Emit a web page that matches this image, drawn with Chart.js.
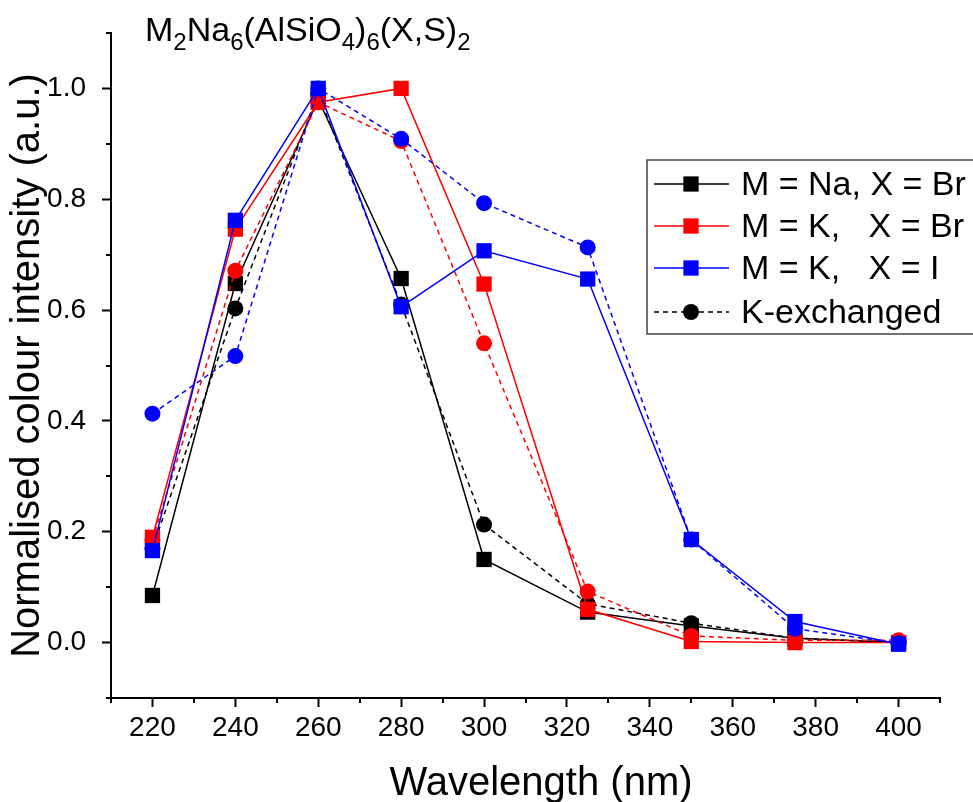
<!DOCTYPE html>
<html>
<head>
<meta charset="utf-8">
<script src="https://cdn.jsdelivr.net/npm/chart.js@4.4.1/dist/chart.umd.min.js"></script>
<style>
  html, body { margin: 0; padding: 0; background: #fff; }
</style>
</head>
<body>
<canvas id="chart" width="973" height="802"></canvas>
<script>
// ===== Data =====
const wavelengths = [220, 240, 260, 280, 300, 325, 350, 375, 400];

// solid lines, square markers
const naBr = [0.085, 0.648, 0.98, 0.657, 0.15, 0.055, 0.03, 0.008, 0.0];
const kBr  = [0.19, 0.746, 0.975, 1.0, 0.647, 0.06, 0.002, 0.0, 0.0];
const kI   = [0.166, 0.762, 1.0, 0.606, 0.707, 0.656, 0.186, 0.038, -0.003];

// dashed lines, circle markers (K-exchanged)
const exNaBr = [0.17, 0.603, 0.99, 0.61, 0.213, 0.07, 0.035, 0.008, 0.0];
const exKBr  = [0.185, 0.671, 0.975, 0.905, 0.54, 0.092, 0.012, 0.004, 0.004];
const exKI   = [0.413, 0.517, 1.0, 0.909, 0.793, 0.713, 0.186, 0.025, -0.001];

const xTicks = [220, 240, 260, 280, 300, 320, 340, 360, 380, 400];
const yTicks = [0.0, 0.2, 0.4, 0.6, 0.8, 1.0];
const xMinor = [210, 230, 250, 270, 290, 310, 330, 350, 370, 390, 410];
const yMinor = [-0.1, 0.1, 0.3, 0.5, 0.7, 0.9, 1.1];

const legendItems = [
  { label: "M = Na, X = Br", color: "#000000", dashed: false, style: "rect" },
  { label: "M = K,   X = Br", color: "#ff0000", dashed: false, style: "rect" },
  { label: "M = K,   X = I", color: "#0000ff", dashed: false, style: "rect" },
  { label: "K-exchanged", color: "#000000", dashed: true, style: "circle" }
];

const FONT = "Arial, 'Liberation Sans', sans-serif";

function pts(vals) {
  return wavelengths.map((x, i) => ({ x: x, y: vals[i] }));
}

function series(vals, color, dashed) {
  return {
    data: pts(vals),
    borderColor: color,
    backgroundColor: color,
    borderWidth: 1.5,
    borderDash: dashed ? [5, 4] : [],
    pointStyle: dashed ? "circle" : "rect",
    pointRadius: dashed ? 8 : 10.8,
    pointBorderWidth: 0,
    tension: 0
  };
}

// ===== Plugins =====
const extras = {
  id: "extras",
  afterDraw(chart) {
    const ctx = chart.ctx;
    const xs = chart.scales.x, ys = chart.scales.y;
    const area = chart.chartArea;
    ctx.save();
    // minor ticks
    ctx.strokeStyle = "#000";
    ctx.lineWidth = 2;
    xMinor.forEach(v => {
      const px = Math.round(xs.getPixelForValue(v));
      ctx.beginPath();
      ctx.moveTo(px, area.bottom);
      ctx.lineTo(px, area.bottom + 5);
      ctx.stroke();
    });
    yMinor.forEach(v => {
      const py = Math.round(ys.getPixelForValue(v));
      ctx.beginPath();
      ctx.moveTo(area.left, py);
      ctx.lineTo(area.left - 5, py);
      ctx.stroke();
    });

    // x axis title
    ctx.fillStyle = "#000";
    ctx.font = "40px " + FONT;
    ctx.textAlign = "center";
    ctx.textBaseline = "middle";
    ctx.fillText("Wavelength (nm)", 541, 784);

    // title with subscripts
    const parts = [["M", 0], ["2", 1], ["Na", 0], ["6", 1], ["(AlSiO", 0], ["4", 1], [")", 0], ["6", 1], ["(X,S)", 0], ["2", 1]];
    let tx = 145;
    const base = 41;
    ctx.textBaseline = "alphabetic";
    ctx.textAlign = "left";
    parts.forEach(([t, sub]) => {
      ctx.font = (sub ? "24px " : "34px ") + FONT;
      ctx.fillText(t, tx, sub ? base + 9 : base);
      tx += ctx.measureText(t).width;
    });

    // legend
    const lx = 647, ly = 160, lw = 340, lh = 174;
    ctx.lineWidth = 1.5;
    ctx.strokeStyle = "#444";
    ctx.strokeRect(lx, ly, lw, lh);
    ctx.font = "34px " + FONT;
    ctx.textBaseline = "middle";
    const rows = [184, 226, 268, 312];
    legendItems.forEach((it, i) => {
      const y = rows[i];
      ctx.strokeStyle = it.color;
      ctx.fillStyle = it.color;
      ctx.lineWidth = 1.5;
      ctx.setLineDash(it.dashed ? [5, 4] : []);
      ctx.beginPath();
      ctx.moveTo(654, y);
      ctx.lineTo(729, y);
      ctx.stroke();
      ctx.setLineDash([]);
      Chart.helpers.drawPoint(ctx, { pointStyle: it.style, radius: it.style === "rect" ? 10.8 : 8, borderWidth: 0 }, 691, y);
      ctx.fillStyle = "#000";
      ctx.fillText(it.label, 741, y + 2);
    });
    ctx.restore();
  }
};

// ===== Chart =====
new Chart(document.getElementById("chart"), {
  type: "line",
  data: {
    datasets: [
      series(exKI, "#0000ff", true),
      series(kI, "#0000ff", false),
      series(exKBr, "#ff0000", true),
      series(kBr, "#ff0000", false),
      series(exNaBr, "#000000", true),
      series(naBr, "#000000", false)
    ]
  },
  options: {
    responsive: false,
    animation: false,
    devicePixelRatio: 1,
    layout: { padding: { top: 33, right: 33, left: 0, bottom: 0 } },
    plugins: {
      legend: { display: false },
      tooltip: { enabled: false }
    },
    scales: {
      x: {
        type: "linear",
        min: 210,
        max: 410,
        afterBuildTicks: s => { s.ticks = xTicks.map(v => ({ value: v })); },
        afterFit: s => { s.height = 104; },
        border: { display: true, color: "#000", width: 2 },
        grid: { display: true, drawOnChartArea: false, drawTicks: true, tickLength: 9, tickWidth: 2, tickColor: "#000" },
        ticks: { color: "#000", font: { family: FONT, size: 28 }, padding: 4, maxRotation: 0, autoSkip: false },
        title: { display: false }
      },
      y: {
        type: "linear",
        min: -0.1,
        max: 1.1,
        afterBuildTicks: s => { s.ticks = yTicks.map(v => ({ value: v })); },
        afterFit: s => { s.width = 111; },
        border: { display: true, color: "#000", width: 2 },
        grid: { display: true, drawOnChartArea: false, drawTicks: true, tickLength: 9, tickWidth: 2, tickColor: "#000" },
        ticks: { color: "#000", font: { family: FONT, size: 28 }, padding: 16, autoSkip: false, callback: v => v.toFixed(1) },
        title: { display: true, text: "Normalised colour intensity (a.u.)", color: "#000", font: { family: FONT, size: 40, lineHeight: 1 }, padding: { top: 8, bottom: 0 } }
      }
    }
  },
  plugins: [extras]
});
</script>
</body>
</html>
